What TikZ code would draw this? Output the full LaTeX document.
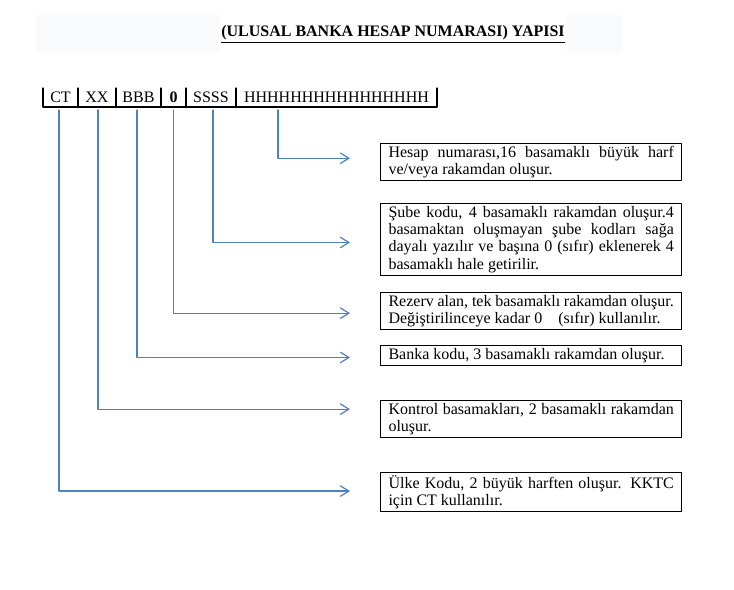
\documentclass[tikz,border=0pt]{standalone}
\usepackage{fontspec}
\setmainfont{Liberation Serif}
\usetikzlibrary{arrows.meta,positioning,calc}
\definecolor{arrowblue}{HTML}{4F81BD}
\definecolor{bandgray}{HTML}{F9FAFB}
\hyphenpenalty=10000
\exhyphenpenalty=10000
\tikzset{
    every picture/.style={line cap=round,line join=round},
    titletext/.style={fill=white,minimum height=28.5pt,inner xsep=2pt,
      font=\fontsize{12}{14}\selectfont\bfseries},
    codecell/.style={minimum height=14.25pt,inner sep=0pt,outer sep=0pt,
      font=\fontsize{12}{14}\selectfont},
    rowline/.style={draw=black,line width=0.8pt},
    infobox/.style={draw=black,line width=0.8pt,anchor=north west,
      text width=214pt,align=justify,inner xsep=6pt,inner ysep=2pt,
      font=\fontsize{12}{13}\selectfont},
    flowarrow/.style={-{Straight Barb[length=6.5pt,width=8pt]},draw=arrowblue,
      line width=0.9pt}
}

\begin{document}
\begin{tikzpicture}[x=0.75pt,y=-0.75pt]
  \useasboundingbox (0,0) rectangle (734,589);
  \fill[bandgray] (37,15) rectangle (622,53);
  \node[titletext] (title) at (393,34) {\underline{(ULUSAL BANKA HESAP NUMARASI) YAPISI}};

  \node[codecell,minimum width=26.25pt] (ct) at (60.5,97.5) {CT};
  \node[codecell,minimum width=28.5pt,right=0pt of ct] (xx) {XX};
  \node[codecell,minimum width=33.75pt,right=0pt of xx] (bbb) {BBB};
  \node[codecell,minimum width=18.75pt,right=0pt of bbb] (zero) {\textbf{0}};
  \node[codecell,minimum width=37.5pt,right=0pt of zero] (ssss) {SSSS};
  \node[codecell,minimum width=150.75pt,right=0pt of ssss] (hhh) {HHHHHHHHHHHHHHHH};
  \draw[rowline] (ct.north west) |- (hhh.south east) -- (hhh.north east);
  \foreach \c in {xx,bbb,zero,ssss,hhh}
    \draw[rowline] (\c.north west) -- (\c.south west);

  \node[infobox] (hesap) at (380,143) {Hesap numarası,16 basamaklı büyük harf ve/veya rakamdan oluşur.};
  \node[infobox] (sube) at (380,203) {Şube kodu, 4 basamaklı rakamdan oluşur.4 basamaktan oluşmayan şube kodları sağa dayalı yazılır ve başına 0 (sıfır) eklenerek 4 basamaklı hale getirilir.};
  \node[infobox] (rezerv) at (380,292) {Rezerv alan, tek basamaklı rakamdan oluşur. Değiştirilinceye kadar 0\hspace{12pt}(sıfır) kullanılır.};
  \node[infobox] (banka) at (380,345) {Banka kodu, 3 basamaklı rakamdan oluşur.};
  \node[infobox] (kontrol) at (380,400) {Kontrol basamakları, 2 basamaklı rakamdan oluşur.};
  \node[infobox] (ulke) at (380,472) {Ülke Kodu, 2 büyük harften oluşur. KKTC için CT kullanılır.};

  \draw[flowarrow] ($(hhh.south west)+(42,3)$) |- ($(hesap.west)+(-30,-4)$);
  \draw[flowarrow] ($(ssss.south)+(2,3)$) |- ($(sube.west)+(-30,3)$);
  \draw[flowarrow] ($(zero.south)+(0,3)$) |- ($(rezerv.west)+(-30,2)$);
  \draw[flowarrow] ($(bbb.south)+(-1.5,3)$) |- ($(banka.west)+(-30,2)$);
  \draw[flowarrow] ($(xx.south)+(1,3)$) |- ($(kontrol.west)+(-30,-10)$);
  \draw[flowarrow] ($(ct.south)+(-1.5,3)$) |- ($(ulke.west)+(-30,-1)$);
\end{tikzpicture}
\end{document}
